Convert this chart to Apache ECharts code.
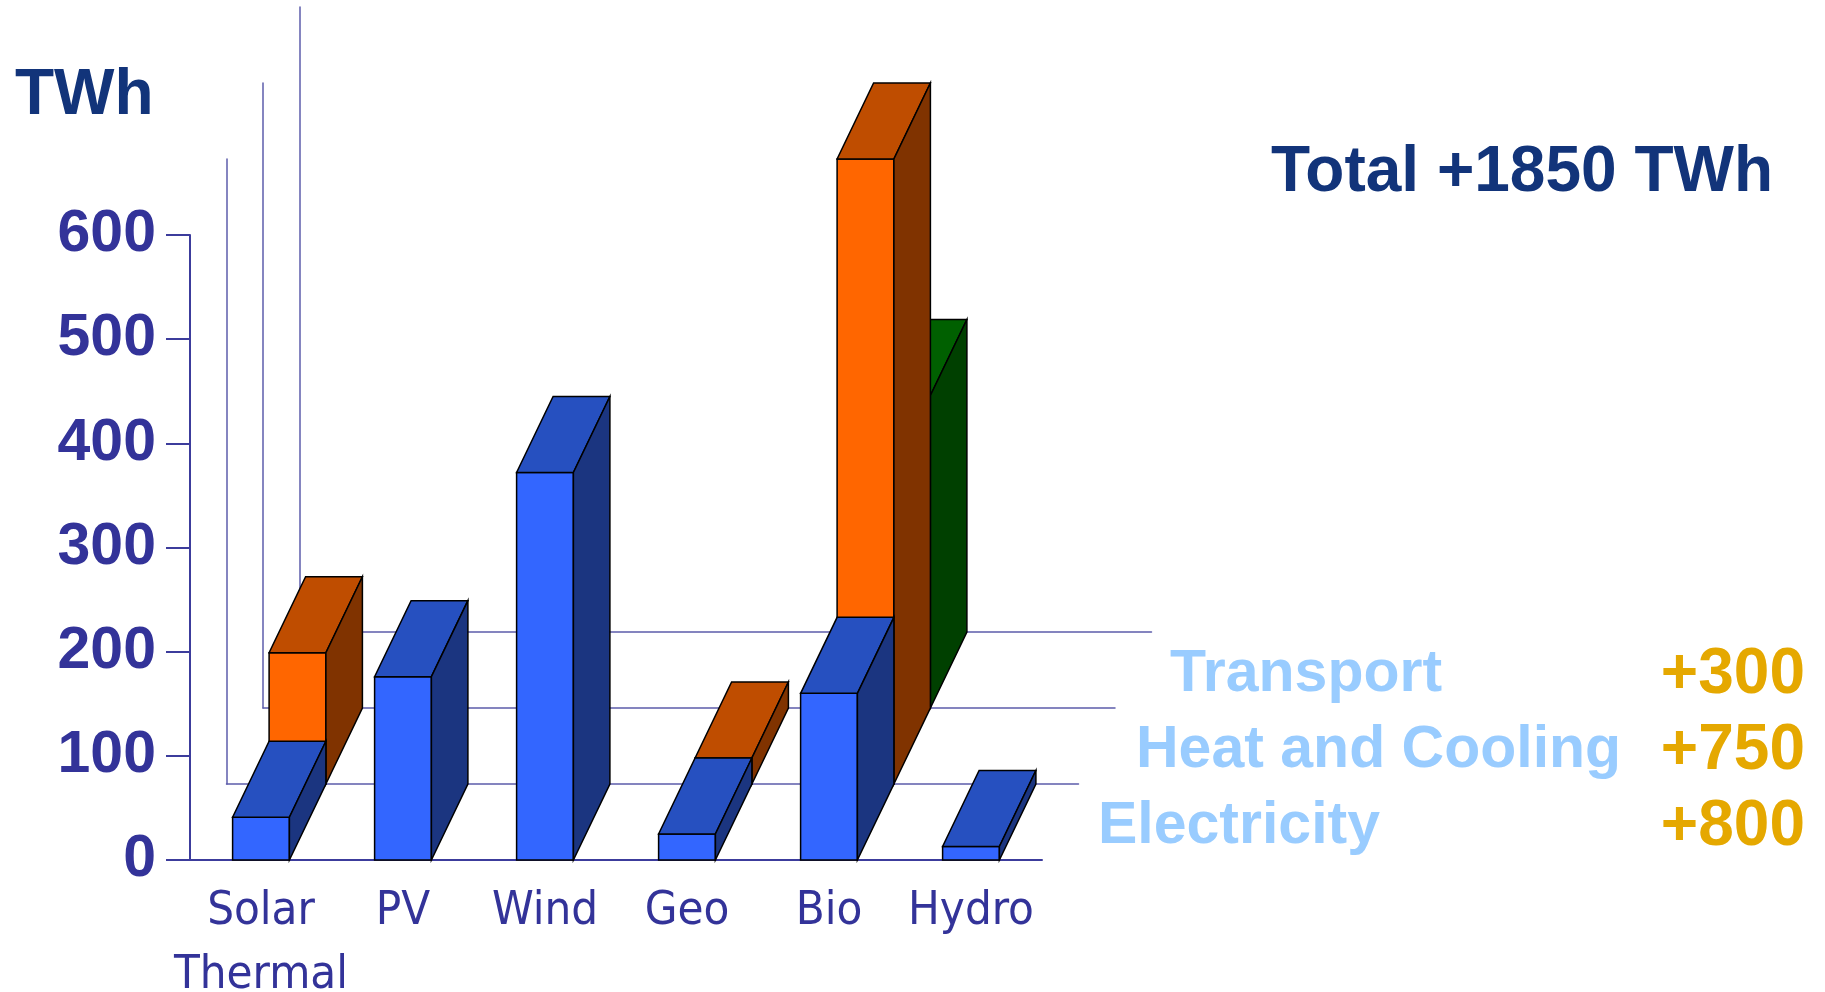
<!DOCTYPE html>
<html>
<head>
<meta charset="utf-8">
<title>TWh</title>
<script src="https://cdn.jsdelivr.net/npm/echarts@6/dist/echarts.min.js"></script>
<style>
html, body { margin: 0; padding: 0; background: #fff; }
#chartDom { width: 1825px; height: 992px; }
</style>
</head>
<body>
<div id="chartDom"></div>
<script>
// data (TWh)
var categories = ['Solar\nThermal', 'PV', 'Wind', 'Geo', 'Bio', 'Hydro'];
var electricity = [41, 176, 372, 25, 160, 13];
var heat = [126, 0, 0, 25, 600, 0];
var transport = [0, 0, 0, 0, 300, 0];
var rowNames = ['Electricity', 'Heat and Cooling', 'Transport'];
var rowAdds = ['+800', '+750', '+300'];
var totalText = 'Total +1850 TWh';
var unitText = 'TWh';

// pseudo 3d depth of one row, in px
var DX = 36.5, DY = 76;
var GL = 190, GT = 235, GW = 852, GH = 625;

function renderBar(row, col) {
  return function (params, api) {
    var val = api.value(1);
    if (!val) return null;
    var idx = api.value(0);
    var base = api.coord([idx, 0]);
    var top = api.coord([idx, val]);
    var w = api.size([1, 0])[0] * 0.4;
    var x0 = base[0] - w / 2 + row * DX, x1 = x0 + w;
    var yb = base[1] - row * DY, yt = top[1] - row * DY;
    var st = function (fill) { return { fill: fill, stroke: '#000', lineWidth: 1.5 }; };
    return {
      type: 'group',
      children: [
        { type: 'polygon', shape: { points: [[x0, yb], [x1, yb], [x1, yt], [x0, yt]] }, style: st(col[0]) },
        { type: 'polygon', shape: { points: [[x0, yt], [x1, yt], [x1 + DX, yt - DY], [x0 + DX, yt - DY]] }, style: st(col[1]) },
        { type: 'polygon', shape: { points: [[x1, yb], [x1 + DX, yb - DY], [x1 + DX, yt - DY], [x1, yt]] }, style: st(col[2]) }
      ]
    };
  };
}

function pairs(arr) {
  return arr.map(function (v, i) { return [i, v]; });
}

var grids = [], xAxes = [], yAxes = [];
for (var k = 0; k < 4; k++) {
  grids.push({ left: GL + k * DX, top: GT - k * DY, width: GW, height: GH, outerBoundsMode: 'none', containLabel: false });
  var lineCol = k === 0 ? '#3c3c9c' : '#5c5cab';
  var lw = k === 0 ? 2 : 1.5;
  xAxes.push({
    gridIndex: k, type: 'category', data: categories,
    axisLine: { show: true, lineStyle: { color: lineCol, width: lw } },
    axisTick: { show: false },
    axisLabel: k === 0 ? {
      interval: 0, color: '#333399', fontSize: 47, lineHeight: 64, margin: 20,
      fontFamily: "'Liberation Sans Narrow', 'DejaVu Sans Condensed', sans-serif"
    } : { show: false },
    z: 0
  });
  yAxes.push({
    gridIndex: k, type: 'value', min: 0, max: 600, interval: 100,
    axisLine: { show: true, lineStyle: { color: lineCol, width: lw } },
    axisTick: k === 0 ? { show: true, length: 24, lineStyle: { color: lineCol, width: lw } } : { show: false },
    axisLabel: k === 0 ? {
      color: '#333399', fontSize: 59, fontWeight: 'bold', margin: 34,
      fontFamily: "'Liberation Sans', Arial, sans-serif"
    } : { show: false },
    splitLine: { show: false },
    z: 0
  });
}

var txt = function (s, x, y, size, fill, align) {
  return {
    type: 'text', x: x, y: y,
    style: {
      text: s, fill: fill, align: align || 'left', verticalAlign: 'middle',
      font: 'bold ' + size + "px 'Liberation Sans', Arial, sans-serif"
    }
  };
};

var rowBase = [844, 768, 692];
var rowLeft = [1098, 1136, 1170];
var graphics = [
  txt(unitText, 15, 96, 64, '#12347a'),
  txt(totalText, 1773, 173, 64, '#12347a', 'right')
];
for (var r = 0; r < 3; r++) {
  graphics.push(txt(rowNames[r], rowLeft[r], rowBase[r] - 17, 59, '#99ccff'));
  graphics.push(txt(rowAdds[r], 1805, rowBase[r] - 17, 64, '#e5a800', 'right'));
}

var myChart = echarts.init(document.getElementById('chartDom'));
var option = {
  animation: false,
  grid: grids,
  xAxis: xAxes,
  yAxis: yAxes,
  graphic: graphics,
  series: [
    { name: 'Transport', type: 'custom', clip: false, z: 2, data: pairs(transport),
      renderItem: renderBar(2, ['#008000', '#006000', '#004000']) },
    { name: 'Heat and Cooling', type: 'custom', clip: false, z: 3, data: pairs(heat),
      renderItem: renderBar(1, ['#ff6600', '#bf4d00', '#803300']) },
    { name: 'Electricity', type: 'custom', clip: false, z: 4, data: pairs(electricity),
      renderItem: renderBar(0, ['#3366ff', '#2650c0', '#1b3580']) }
  ]
};
option && myChart.setOption(option);
</script>
</body>
</html>
